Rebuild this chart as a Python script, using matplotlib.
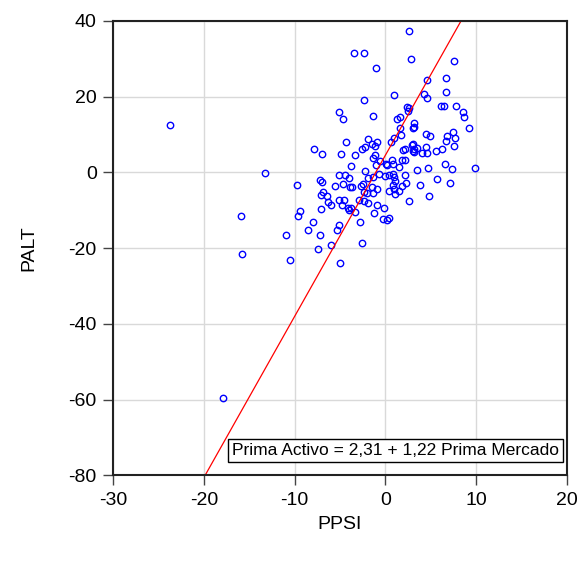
import matplotlib
matplotlib.use("Agg")
from matplotlib import pyplot as plt
import numpy as np

plt.rcParams['font.family'] = ['Liberation Sans', 'DejaVu Sans']
plt.rcParams['axes.unicode_minus'] = False

# scatter values
ppsi = [-23.8, 2.6, -3.5, -2.4, 2.84, 7.6, -1.0, 4.6, 6.74, 6.74,
        1.0, 4.24, 4.57, -2.39, -5.15, -4.67, -1.33, 2.36, 2.65, 2.54,
        6.12, 6.52, 7.78, 8.62, 8.70, 9.28, 1.26, 1.66, 3.17, 3.1,
        3.2, 1.66, 1.77, 0.93, 0.63, 4.53, 4.94, 7.45, 6.85, 7.67,
        6.71, 7.52, 6.3, 5.6, 4.53, 4.57, 4.0, 3.47, 3.0, 2.9,
        3.17, 3.0, 2.2, 2.0, 3.2, -4.38, -1.91, -1.47, -0.88, -1.17,
        -2.24, -2.57, -7.84, -6.96, -4.86, -3.38, -1.17, -1.33, 0.7, 1.8,
        2.2, -0.59, 0.04, 0.85, 1.48, -3.83, -2.2, -1.03, 0.22, 3.5,
        4.68, 6.56, 7.4, 9.91, -13.26, -5.15, -4.49, -4.05, -1.88, -1.33,
        -0.73, 0.0, 0.44, 0.88, 1.0, 2.2, 1.04, 0.82, 2.32, 1.84,
        1.48, 1.1, 0.41, 0.96, 3.8, 5.71, 7.11, 4.8, 2.65, -9.79,
        -7.25, -7.0, -5.6, -4.67, -3.9, -3.7, -2.65, -2.43, -1.44, -0.88,
        -1.33, -1.99, -2.32, -6.92, -7.1, -6.47, -6.37, -5.97, -5.15, -4.53,
        -4.82, -4.16, -3.83, -3.98, -3.38, -2.94, -2.35, -1.95, -0.95, -0.14,
        -1.22, -7.07, -9.43, -9.68, -15.9, -8.02, -2.76, -0.22, 0.37, 0.19,
        -5.08, -5.3, -8.54, -7.25, -11.0, -2.54, -6.0, -7.44, -15.8, -10.5,
        -5.04, -17.9]
palt = [12.5, 37.3, 31.6, 31.6, 30.0, 29.5, 27.6, 24.4, 24.9, 21.1,
        20.4, 20.6, 19.6, 19.0, 16.0, 14.0, 14.8, 17.2, 17.1, 16.3,
        17.5, 17.5, 17.6, 16.0, 14.7, 11.7, 14.1, 14.5, 13.0, 11.7,
        12.1, 11.7, 10.0, 9.2, 8.1, 10.1, 9.7, 10.7, 9.6, 9.2,
        8.2, 7.0, 6.2, 5.6, 6.7, 5.2, 5.0, 6.5, 7.6, 7.3,
        6.2, 5.7, 6.1, 6.0, 5.5, 8.1, 8.8, 7.6, 8.0, 7.0,
        6.7, 6.3, 6.1, 4.9, 4.8, 4.6, 4.5, 3.7, 3.4, 3.4,
        3.4, 3.1, 2.2, 2.1, 1.4, 1.7, 0.5, 2.0, 2.0, 0.7,
        1.2, 2.2, 0.9, 1.2, -0.2, -0.8, -0.6, -1.5, -1.4, -1.1,
        -0.5, -0.9, -0.7, -0.4, -1.1, -0.6, -2.2, -3.2, -2.7, -3.7,
        -4.8, -5.7, -5.0, -4.4, -3.4, -1.7, -2.8, -6.1, -7.5, -3.4,
        -1.9, -2.5, -3.6, -3.0, -3.9, -3.9, -3.5, -3.0, -3.9, -4.4,
        -5.5, -5.5, -5.1, -5.2, -5.9, -6.2, -7.7, -8.6, -7.3, -7.2,
        -8.5, -9.3, -9.4, -10.0, -10.4, -7.3, -7.5, -8.0, -8.7, -9.3,
        -10.8, -9.7, -10.2, -11.5, -11.6, -13.1, -13.0, -12.3, -12.0, -12.5,
        -13.8, -15.2, -15.3, -16.4, -16.4, -18.7, -19.2, -20.3, -21.6, -23.1,
        -23.9, -59.5]

# fitted line as drawn
line_intercept = 4.5
line_slope = 4.25
eq_text = "Prima Activo = 2,31 + 1,22 Prima Mercado"

x_ticks = [-30, -20, -10, 0, 10, 20]
y_ticks = [-80, -60, -40, -20, 0, 20, 40]

fig = plt.figure(figsize=(5.79, 5.64), dpi=100)
ax = fig.add_axes([0.1957, 0.157, 0.783, 0.806])

ax.grid(True, color="#d9d9d9", linewidth=1.0)
ax.set_axisbelow(True)

ax.plot(ppsi, palt, linestyle="none", marker="o", markersize=4.6,
        markerfacecolor="none", markeredgecolor="blue", markeredgewidth=1.0)

xl = np.array([-30, 20])
ax.plot(xl, line_intercept + line_slope * xl, color="red", linewidth=0.9)

ax.set_xlim(-30, 20)
ax.set_ylim(-80, 40)
ax.set_xticks(x_ticks)
ax.set_yticks(y_ticks)
ax.tick_params(axis="both", direction="out", length=7, width=1, labelsize=14,
               color="#444444", pad=5)
for s in ax.spines.values():
    s.set_color("#222222")
    s.set_linewidth(1.5)

ax.set_xlabel("PPSI", fontsize=14, labelpad=5)
ax.set_ylabel("PALT", fontsize=14, labelpad=22)

ax.text(0.262, 0.055, eq_text, transform=ax.transAxes, fontsize=12.5,
        ha="left", va="center",
        bbox=dict(boxstyle="square,pad=0.25", facecolor="white",
                  edgecolor="black", linewidth=1))

fig.savefig("out.png", dpi=100)
